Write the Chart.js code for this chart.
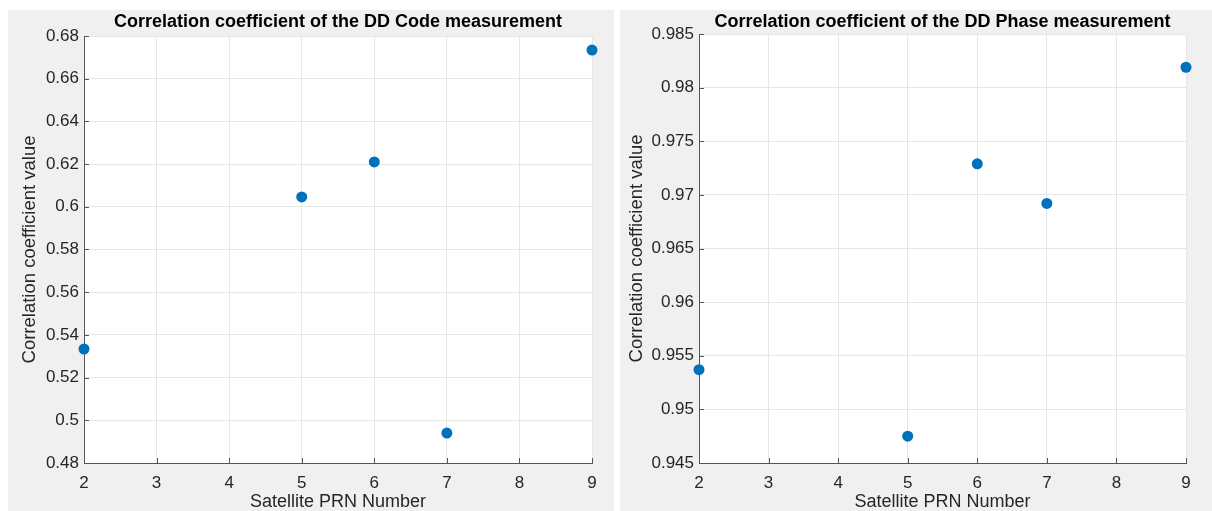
<!DOCTYPE html>
<html>
<head>
<meta charset="utf-8">
<script src="https://cdn.jsdelivr.net/npm/chart.js@4.4.1/dist/chart.umd.min.js"></script>
<style>
  html, body { margin: 0; padding: 0; background: #fff; }
  body { width: 1212px; height: 511px; position: relative; overflow: hidden; }
  .panel { position: absolute; background: #f0f0f0; }
  #p1 { left: 8px; top: 10px; width: 606px; height: 501px; }
  #p2 { left: 620px; top: 10px; width: 592px; height: 501px; }
</style>
</head>
<body>
<div class="panel" id="p1"><canvas id="codeChart" width="606" height="501"></canvas></div>
<div class="panel" id="p2"><canvas id="phaseChart" width="592" height="501"></canvas></div>
<script>
// satellite PRN numbers (x values)
const prn = [2, 5, 6, 7, 9];
// correlation coefficients
const codeCorr = [0.5334, 0.6046, 0.621, 0.494, 0.6734];
const phaseCorr = [0.9537, 0.9475, 0.9729, 0.9692, 0.9819];

const xRange = [2, 9];
const codeRange = [0.48, 0.68];
const phaseRange = [0.945, 0.985];

const titles = ['Correlation coefficient of the DD Code measurement',
                'Correlation coefficient of the DD Phase measurement'];
const xTitle = 'Satellite PRN Number';
const yTitle = 'Correlation coefficient value';

const FONT = "'Liberation Sans', Arial, Helvetica, sans-serif";
const TEXT = '#262626';
const AXIS = '#555555';
const BLUE = '#0072BD';

// white axes background like MATLAB
const plotBg = {
    id: 'plotBg',
    beforeDraw(chart) {
        const { ctx, chartArea: a } = chart;
        ctx.save();
        ctx.fillStyle = '#ffffff';
        ctx.fillRect(a.left, a.top, a.width, a.height);
        ctx.restore();
    }
};

// small inward tick marks on the left and bottom axes
const innerTicks = {
    id: 'innerTicks',
    afterDraw(chart) {
        const { ctx, chartArea: a, scales } = chart;
        ctx.save();
        ctx.strokeStyle = AXIS;
        ctx.lineWidth = 1;
        ctx.beginPath();
        scales.x.ticks.forEach(t => {
            const x = Math.round(scales.x.getPixelForValue(t.value)) + 0.5;
            ctx.moveTo(x, a.bottom);
            ctx.lineTo(x, a.bottom - 5);
        });
        scales.y.ticks.forEach(t => {
            const y = Math.round(scales.y.getPixelForValue(t.value)) + 0.5;
            ctx.moveTo(a.left, y);
            ctx.lineTo(a.left + 5, y);
        });
        ctx.stroke();
        ctx.restore();
    }
};

function makeChart(id, title, values, yr, step, opt) {
    const ctx = document.getElementById(id).getContext('2d');
    return new Chart(ctx, {
        type: 'scatter',
        data: {
            datasets: [{
                data: prn.map((p, i) => ({ x: p, y: values[i] })),
                backgroundColor: BLUE,
                borderWidth: 0,
                pointRadius: 5.5,
                pointHoverRadius: 5.5,
                clip: false
            }]
        },
        options: {
            responsive: false,
            animation: false,
            layout: { padding: { left: 0, right: opt.right, top: 0, bottom: 0 } },
            plugins: {
                legend: { display: false },
                tooltip: { enabled: false },
                title: {
                    display: true,
                    text: title,
                    fullSize: false,
                    color: '#000',
                    font: { family: FONT, size: 18, weight: 'bold', lineHeight: 1 },
                    padding: { top: 3, bottom: opt.top - 21 }
                }
            },
            scales: {
                x: {
                    type: 'linear',
                    min: xRange[0],
                    max: xRange[1],
                    afterFit: s => { s.height = 48; },
                    ticks: {
                        stepSize: 1,
                        color: TEXT,
                        padding: 10,
                        font: { family: FONT, size: 17 }
                    },
                    grid: { color: '#e6e6e6', drawTicks: false },
                    border: { color: AXIS, width: 1 },
                    title: {
                        display: true,
                        text: xTitle,
                        color: TEXT,
                        font: { family: FONT, size: 18, lineHeight: 1 },
                        padding: { top: 0, bottom: 0 }
                    }
                },
                y: {
                    min: yr[0],
                    max: yr[1],
                    afterFit: s => { s.width = opt.left; },
                    ticks: {
                        stepSize: step,
                        color: TEXT,
                        padding: 5,
                        font: { family: FONT, size: 17 },
                        callback: v => String(+v.toFixed(3))
                    },
                    grid: { color: '#e6e6e6', drawTicks: false },
                    border: { color: AXIS, width: 1 },
                    title: {
                        display: true,
                        text: yTitle,
                        color: TEXT,
                        font: { family: FONT, size: 18.5, lineHeight: 1.2 },
                        padding: { top: opt.yTitle - 11, bottom: 0 }
                    }
                }
            }
        },
        plugins: [plotBg, innerTicks]
    });
}

makeChart('codeChart', titles[0], codeCorr, codeRange, 0.02, { left: 76, right: 22, top: 26, yTitle: 22 });
makeChart('phaseChart', titles[1], phaseCorr, phaseRange, 0.005, { left: 79, right: 26, top: 24, yTitle: 17 });
</script>
</body>
</html>
